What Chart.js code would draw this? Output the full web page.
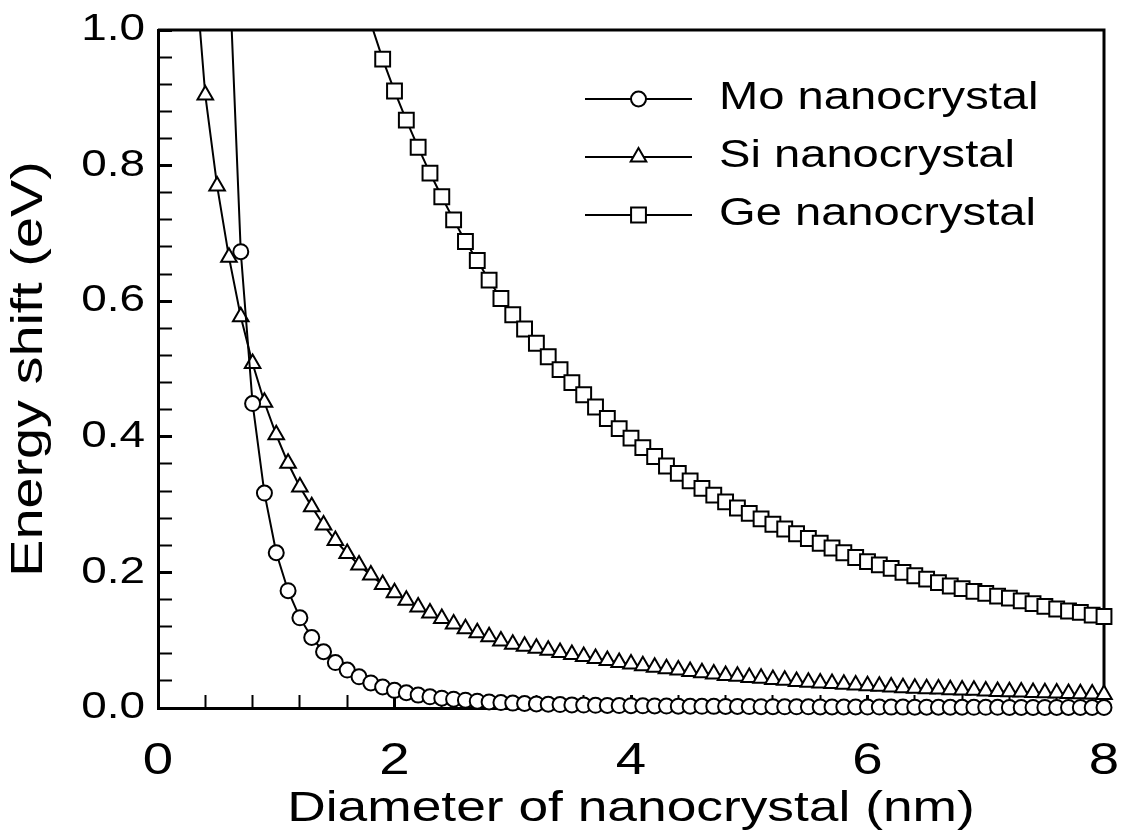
<!DOCTYPE html>
<html>
<head>
<meta charset="utf-8">
<script src="https://cdn.jsdelivr.net/npm/chart.js@4.4.1/dist/chart.umd.min.js"></script>
<style>
  html, body { margin: 0; padding: 0; background: #fff; }
  canvas { display: block; }
</style>
</head>
<body>
<canvas id="chart" width="1123" height="840"></canvas>
<script>
// Series names (legend order)
const seriesNames = ['Mo nanocrystal', 'Si nanocrystal', 'Ge nanocrystal'];

// Mo nanocrystal: diameter (nm) and energy shift (eV)
const moDiameter = [0.6, 0.7, 0.8, 0.9, 1.0, 1.1, 1.2, 1.3, 1.4, 1.5, 1.6, 1.7, 1.8, 1.9,
  2.0, 2.1, 2.2, 2.3, 2.4, 2.5, 2.6, 2.7, 2.8, 2.9, 3.0, 3.1, 3.2, 3.3, 3.4, 3.5, 3.6, 3.7, 3.8, 3.9,
  4.0, 4.1, 4.2, 4.3, 4.4, 4.5, 4.6, 4.7, 4.8, 4.9, 5.0, 5.1, 5.2, 5.3, 5.4, 5.5, 5.6, 5.7, 5.8, 5.9,
  6.0, 6.1, 6.2, 6.3, 6.4, 6.5, 6.6, 6.7, 6.8, 6.9, 7.0, 7.1, 7.2, 7.3, 7.4, 7.5, 7.6, 7.7, 7.8, 7.9, 8.0];
const moShift = [1.10, 0.673, 0.449, 0.317, 0.229, 0.173, 0.133, 0.104, 0.083, 0.067, 0.056, 0.046, 0.037, 0.031,
  0.026, 0.0225, 0.019, 0.0165, 0.0145, 0.013, 0.0115, 0.010, 0.009, 0.008, 0.0072, 0.0066, 0.006, 0.0055, 0.005, 0.0046, 0.0043, 0.004, 0.0038, 0.0036,
  0.0034, 0.0032, 0.003, 0.0028, 0.0027, 0.0026, 0.0025, 0.0024, 0.0023, 0.0022, 0.0021, 0.002, 0.0019, 0.0018, 0.0018, 0.0017, 0.0016, 0.0016, 0.0015, 0.0015,
  0.0014, 0.0014, 0.0013, 0.0013, 0.0012, 0.0012, 0.0011, 0.0011, 0.0011, 0.001, 0.001, 0.001, 0.0009, 0.0009, 0.0009, 0.0008, 0.0008, 0.0008, 0.0008, 0.0007, 0.0007];

// Si nanocrystal
const siDiameter = [0.3, 0.4, 0.5, 0.6, 0.7, 0.8, 0.9, 1.0, 1.1, 1.2, 1.3, 1.4, 1.5, 1.6, 1.7, 1.8, 1.9,
  2.0, 2.1, 2.2, 2.3, 2.4, 2.5, 2.6, 2.7, 2.8, 2.9, 3.0, 3.1, 3.2, 3.3, 3.4, 3.5, 3.6, 3.7, 3.8, 3.9,
  4.0, 4.1, 4.2, 4.3, 4.4, 4.5, 4.6, 4.7, 4.8, 4.9, 5.0, 5.1, 5.2, 5.3, 5.4, 5.5, 5.6, 5.7, 5.8, 5.9,
  6.0, 6.1, 6.2, 6.3, 6.4, 6.5, 6.6, 6.7, 6.8, 6.9, 7.0, 7.1, 7.2, 7.3, 7.4, 7.5, 7.6, 7.7, 7.8, 7.9, 8.0];
const siShift = [1.12, 0.904, 0.770, 0.665, 0.577, 0.508, 0.451, 0.403, 0.361, 0.326, 0.297, 0.270, 0.247, 0.228, 0.211, 0.196, 0.182,
  0.170, 0.159, 0.149, 0.140, 0.132, 0.124, 0.117, 0.111, 0.105, 0.099, 0.094, 0.091, 0.088, 0.085, 0.082, 0.079, 0.076, 0.073, 0.070, 0.067,
  0.065, 0.0625, 0.060, 0.058, 0.056, 0.054, 0.052, 0.050, 0.048, 0.047, 0.045, 0.044, 0.042, 0.041, 0.039, 0.038, 0.037, 0.036, 0.035, 0.034,
  0.033, 0.032, 0.031, 0.030, 0.029, 0.0285, 0.028, 0.027, 0.0265, 0.026, 0.025, 0.0245, 0.024, 0.0235, 0.023, 0.0225, 0.022, 0.0215, 0.021, 0.0205, 0.020];

// Ge nanocrystal
const geDiameter = [1.8, 1.9,
  2.0, 2.1, 2.2, 2.3, 2.4, 2.5, 2.6, 2.7, 2.8, 2.9, 3.0, 3.1, 3.2, 3.3, 3.4, 3.5, 3.6, 3.7, 3.8, 3.9,
  4.0, 4.1, 4.2, 4.3, 4.4, 4.5, 4.6, 4.7, 4.8, 4.9, 5.0, 5.1, 5.2, 5.3, 5.4, 5.5, 5.6, 5.7, 5.8, 5.9,
  6.0, 6.1, 6.2, 6.3, 6.4, 6.5, 6.6, 6.7, 6.8, 6.9, 7.0, 7.1, 7.2, 7.3, 7.4, 7.5, 7.6, 7.7, 7.8, 7.9, 8.0];
const geShift = [1.01, 0.957,
  0.910, 0.867, 0.827, 0.789, 0.754, 0.720, 0.688, 0.660, 0.631, 0.604, 0.580, 0.559, 0.538, 0.518, 0.499, 0.480, 0.462, 0.444, 0.427, 0.412,
  0.398, 0.384, 0.371, 0.357, 0.346, 0.335, 0.324, 0.314, 0.304, 0.295, 0.287, 0.279, 0.271, 0.264, 0.257, 0.250, 0.243, 0.236, 0.229, 0.222,
  0.216, 0.211, 0.206, 0.200, 0.195, 0.190, 0.185, 0.180, 0.176, 0.172, 0.169, 0.165, 0.162, 0.158, 0.154, 0.150, 0.146, 0.143, 0.141, 0.137, 0.135];

// Axis ranges and tick steps
const xRange = [0, 8];
const yRange = [0, 1.0];
const xMinorStep = 0.4, xMajorStep = 2;
const yMinorStep = 0.04, yMajorStep = 0.2;

const FONT = "'Liberation Sans', Arial, Helvetica, sans-serif";
const TEXT_STRETCH = 1.24;   // wide lettering used throughout the figure
Chart.defaults.font.family = FONT;
Chart.defaults.color = '#000';

const markerStyles = ['circle', 'triangle', 'rect'];
const markerRadii = [7.5, 9, 10.5];

const isMultiple = (v, step) => Math.abs(v / step - Math.round(v / step)) < 1e-6;

// Legend sample: short line with the series marker in its middle
function legendSample(style, radius) {
  const c = document.createElement('canvas');
  c.width = 115; c.height = 30;
  const g = c.getContext('2d');
  g.strokeStyle = '#000';
  g.lineWidth = 2;
  g.beginPath(); g.moveTo(0, 15); g.lineTo(107, 15); g.stroke();
  g.fillStyle = '#fff';
  Chart.helpers.drawPoint(g, { pointStyle: style, radius: radius, borderWidth: 2, rotation: 0 }, 53.5, 15);
  return c;
}
const legendSamples = markerStyles.map((s, i) => legendSample(s, markerRadii[i]));

const seriesX = [moDiameter, siDiameter, geDiameter];
const seriesY = [moShift, siShift, geShift];

const datasets = seriesNames.map((name, i) => ({
  label: name,
  data: seriesX[i].map((x, k) => ({ x: x, y: seriesY[i][k] })),
  borderColor: '#000',
  backgroundColor: '#fff',
  borderWidth: 2,
  tension: 0,
  pointStyle: markerStyles[i],
  pointBackgroundColor: '#fff',
  pointBorderColor: '#000',
  pointBorderWidth: 2,
  pointRadius: ctx => (ctx.raw && ctx.raw.y > yRange[1]) ? 0 : markerRadii[i],
  pointHoverRadius: ctx => (ctx.raw && ctx.raw.y > yRange[1]) ? 0 : markerRadii[i],
  clip: { left: 20, top: 0, right: 20, bottom: 20 }
}));

// Horizontally widened lettering: every label is drawn and measured
// with the same horizontal scale around its anchor point.
const wideText = {
  id: 'wideText',
  beforeInit(chart) {
    const ctx = chart.ctx;
    const fill = ctx.fillText.bind(ctx);
    const measure = ctx.measureText.bind(ctx);
    ctx.fillText = function (text, x, y, maxWidth) {
      ctx.save();
      ctx.translate(x, y);
      ctx.scale(TEXT_STRETCH, 1);
      fill(text, 0, 0);
      ctx.restore();
    };
    ctx.measureText = function (text) {
      const m = measure(text);
      return {
        width: m.width * TEXT_STRETCH,
        actualBoundingBoxLeft: m.actualBoundingBoxLeft * TEXT_STRETCH,
        actualBoundingBoxRight: m.actualBoundingBoxRight * TEXT_STRETCH,
        actualBoundingBoxAscent: m.actualBoundingBoxAscent,
        actualBoundingBoxDescent: m.actualBoundingBoxDescent,
        fontBoundingBoxAscent: m.fontBoundingBoxAscent,
        fontBoundingBoxDescent: m.fontBoundingBoxDescent
      };
    };
  }
};

// Closes the plot box on the top and right sides
const frameBox = {
  id: 'frameBox',
  beforeDatasetsDraw(chart) {
    const { ctx, chartArea: a } = chart;
    ctx.save();
    ctx.strokeStyle = '#000';
    ctx.lineWidth = 3;
    ctx.beginPath();
    ctx.moveTo(a.left, a.top);
    ctx.lineTo(a.right, a.top);
    ctx.lineTo(a.right, a.bottom);
    ctx.stroke();
    ctx.restore();
  }
};

// Places the legend block inside the plot, upper right
const legendPlacement = {
  id: 'legendPlacement',
  afterLayout(chart) {
    const lg = chart.legend;
    if (!lg) return;
    const pad = lg.options.labels.padding;
    const w = lg.width, h = lg.height;
    lg.left = 585 - pad;
    lg.right = lg.left + w;
    lg.top = 60;
    lg.bottom = lg.top + h;
  }
};

new Chart(document.getElementById('chart'), {
  type: 'line',
  data: { datasets: datasets },
  options: {
    responsive: false,
    animation: false,
    devicePixelRatio: 1,
    layout: { padding: { top: 30, right: 19, left: 0, bottom: 0 } },
    plugins: {
      tooltip: { enabled: false },
      legend: {
        position: 'chartArea',
        align: 'start',
        labels: {
          usePointStyle: true,
          pointStyleWidth: 115,
          padding: 20,
          color: '#000',
          font: { size: 38, family: FONT },
          generateLabels: chart => chart.data.datasets.map((ds, i) => ({
            text: ds.label,
            pointStyle: legendSamples[i],
            fillStyle: 'transparent',
            strokeStyle: 'transparent',
            lineWidth: 0,
            hidden: false,
            datasetIndex: i
          }))
        }
      }
    },
    scales: {
      x: {
        type: 'linear',
        min: xRange[0],
        max: xRange[1],
        afterFit: s => { s.height = 132; s.paddingLeft = 0; s.paddingRight = 0; },
        border: { display: true, color: '#000', width: 3 },
        grid: {
          display: true,
          drawOnChartArea: false,
          drawTicks: true,
          tickLength: -13,
          tickColor: '#000',
          tickWidth: c => isMultiple(c.tick.value, xMajorStep) ? 3 : 2
        },
        ticks: {
          stepSize: xMinorStep,
          maxTicksLimit: 100,
          autoSkip: false,
          maxRotation: 0,
          padding: 40,
          color: '#000',
          font: { size: 44 },
          callback: v => isMultiple(v, xMajorStep) ? String(Math.round(v)) : ''
        },
        title: {
          display: true,
          text: 'Diameter of nanocrystal (nm)',
          color: '#000',
          font: { size: 43 },
          padding: { top: 0, bottom: 5 }
        }
      },
      y: {
        type: 'linear',
        min: yRange[0],
        max: yRange[1],
        afterFit: s => { s.width = 158; s.paddingTop = 0; s.paddingBottom = 0; },
        border: { display: true, color: '#000', width: 3 },
        grid: {
          display: true,
          drawOnChartArea: false,
          drawTicks: true,
          tickLength: -14,
          tickColor: '#000',
          tickWidth: c => isMultiple(c.tick.value, yMajorStep) ? 3 : 2
        },
        ticks: {
          stepSize: yMinorStep,
          maxTicksLimit: 100,
          autoSkip: false,
          padding: 27,
          color: '#000',
          font: { size: 37 },
          callback: v => isMultiple(v, yMajorStep) ? v.toFixed(1) : ''
        },
        title: {
          display: true,
          text: 'Energy shift (eV)',
          color: '#000',
          font: { size: 45 },
          padding: { top: 3, bottom: 0 }
        }
      }
    }
  },
  plugins: [wideText, frameBox, legendPlacement]
});
</script>
</body>
</html>
